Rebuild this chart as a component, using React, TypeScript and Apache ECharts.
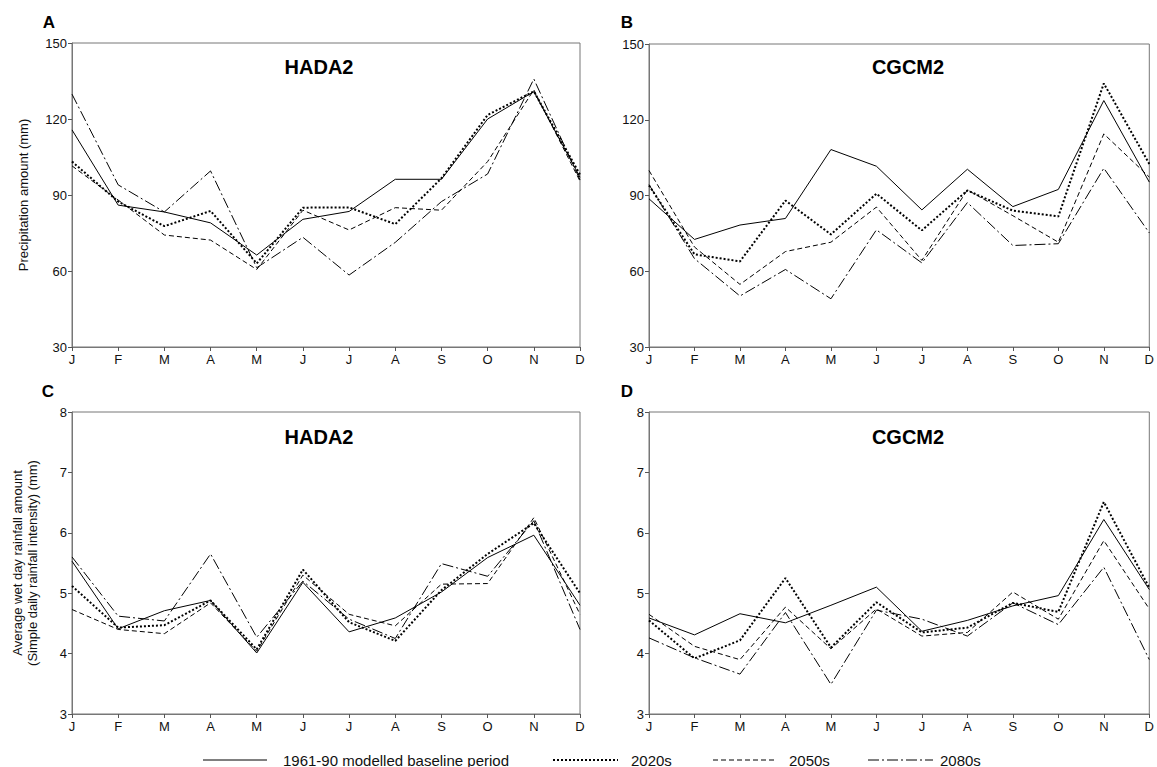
import React, { useEffect, useRef } from "react";
import * as echarts from "echarts";

const months = ["J", "F", "M", "A", "M", "J", "J", "A", "S", "O", "N", "D"];
const seriesNames = ["1961-90 modelled baseline period", "2020s", "2050s", "2080s"];

// Panel A: HADA2 precipitation amount (mm)
const aBaseline = [115.7, 86, 83.3, 79, 66.3, 80.4, 83.5, 96.2, 96.2, 120, 130.8, 97];
const a2020s = [103.2, 87.4, 77.7, 83.7, 63, 85, 85.1, 78.5, 96.6, 121.6, 130.9, 98];
const a2050s = [101.5, 88, 74.2, 72.2, 60.6, 84, 76.2, 85, 84, 103.2, 131.5, 95.5];
const a2080s = [129.8, 94, 83.3, 99.5, 61.3, 73.3, 58.4, 71.3, 87.4, 98.3, 135.8, 96];

// Panel B: CGCM2 precipitation amount (mm)
const bBaseline = [88.7, 72.6, 78.3, 80.9, 108.2, 101.6, 84.3, 100.4, 85.6, 92.4, 127.6, 95.3];
const b2020s = [94, 66.7, 63.9, 88, 74.6, 90.7, 76.2, 92, 84, 81.7, 134.4, 102.5];
const b2050s = [99.9, 69.6, 54.8, 67.8, 71.5, 85.4, 64.3, 92.2, 82, 71.5, 114.4, 97.3];
const b2080s = [94.3, 65, 50.2, 60.7, 49.1, 76.4, 63.3, 87.2, 70.2, 70.9, 100.8, 75.2];

// Panel C: HADA2 simple daily rainfall intensity (mm)
const cBaseline = [5.53, 4.41, 4.71, 4.88, 4.01, 5.18, 4.36, 4.59, 5.02, 5.59, 5.96, 4.8];
const c2020s = [5.12, 4.43, 4.47, 4.88, 4.07, 5.39, 4.52, 4.21, 5.05, 5.65, 6.16, 5.0];
const c2050s = [4.73, 4.4, 4.33, 4.84, 4.04, 5.3, 4.65, 4.46, 5.15, 5.16, 6.25, 4.65];
const c2080s = [5.6, 4.62, 4.54, 5.65, 4.27, 5.2, 4.57, 4.25, 5.49, 5.28, 6.2, 4.4];

// Panel D: CGCM2 simple daily rainfall intensity (mm)
const dBaseline = [4.59, 4.31, 4.66, 4.51, 4.8, 5.1, 4.37, 4.55, 4.79, 4.96, 6.22, 5.06];
const d2020s = [4.55, 3.92, 4.22, 5.25, 4.1, 4.85, 4.35, 4.43, 4.84, 4.69, 6.51, 5.09];
const d2050s = [4.65, 4.12, 3.9, 4.77, 4.08, 4.74, 4.29, 4.35, 5.02, 4.57, 5.87, 4.74];
const d2080s = [4.26, 3.93, 3.66, 4.68, 3.49, 4.72, 4.57, 4.29, 4.84, 4.48, 5.43, 3.9];

const precipTicks = { min: 30, max: 150, interval: 30 };
const intensityTicks = { min: 3, max: 8, interval: 1 };

const FONT = "'Liberation Sans', Arial, sans-serif";

const lineStyles = [
  { color: "#000", width: 1, type: "solid" },
  { color: "#000", width: 2, type: [2, 2] },
  { color: "#000", width: 1, type: [5, 3] },
  { color: "#000", width: 1, type: [11, 3, 2, 3] },
];

export default function App() {
  const ref = useRef<HTMLDivElement>(null);
  useEffect(() => {
    if (!ref.current) return;
    const chart = echarts.init(ref.current, undefined, { renderer: "svg" });

    const grids = [
      { left: 72, top: 43, width: 508, height: 304 },
      { left: 649, top: 44, width: 507, height: 303 },
      { left: 72, top: 412, width: 508, height: 302 },
      { left: 649, top: 412, width: 507, height: 302 },
    ].map((g) => ({ ...g, show: true, borderColor: "#777", borderWidth: 1, backgroundColor: "transparent" }));

    const xAxes = grids.map((_, i) => ({
      type: "category",
      gridIndex: i,
      data: months,
      boundaryGap: false,
      axisLine: { lineStyle: { color: "#777", width: 1 } },
      axisTick: { show: true, alignWithLabel: true, length: 4, lineStyle: { color: "#555" } },
      axisLabel: { color: "#111", fontSize: 13, fontFamily: FONT, margin: 6, interval: 0 },
      splitLine: { show: false },
    }));

    const yAxes = grids.map((_, i) => {
      const t = i < 2 ? precipTicks : intensityTicks;
      let name = "";
      let nameGap = 0;
      if (i === 0) {
        name = "Precipitation amount (mm)";
        nameGap = 41;
      } else if (i === 2) {
        name = "Average wet day rainfall amount\n(Simple daily rainfall intensity) (mm)";
        nameGap = 32;
      }
      return {
        type: "value",
        gridIndex: i,
        min: t.min,
        max: t.max,
        interval: t.interval,
        name,
        nameLocation: "middle",
        nameGap,
        nameTextStyle: { color: "#111", fontSize: 13, fontFamily: FONT, lineHeight: 15 },
        axisLine: { show: true, lineStyle: { color: "#777", width: 1 } },
        axisTick: { show: true, length: 4, lineStyle: { color: "#555" } },
        axisLabel: { color: "#111", fontSize: 13, fontFamily: FONT, margin: 5 },
        splitLine: { show: false },
      };
    });

    const panels = [
      [aBaseline, a2020s, a2050s, a2080s],
      [bBaseline, b2020s, b2050s, b2080s],
      [cBaseline, c2020s, c2050s, c2080s],
      [dBaseline, d2020s, d2050s, d2080s],
    ];

    const series: any[] = [];
    panels.forEach((p, gi) => {
      p.forEach((vals, si) => {
        series.push({
          type: "line",
          name: seriesNames[si],
          xAxisIndex: gi,
          yAxisIndex: gi,
          data: vals,
          symbol: "none",
          showSymbol: false,
          lineStyle: lineStyles[si],
          itemStyle: { color: "#000" },
          z: 4 - si,
        });
      });
    });

    // Legend drawn as graphic keys (line sample + label)
    const legendLines = [
      [203, 267],
      [553, 618],
      [713, 775],
      [868, 933],
    ];
    const legendTextX = [283, 631, 789, 940];
    const legendY = 760;
    const legendGraphics: any[] = [];
    seriesNames.forEach((n, i) => {
      const ls = lineStyles[i];
      legendGraphics.push({
        type: "line",
        shape: { x1: legendLines[i][0], y1: legendY, x2: legendLines[i][1], y2: legendY },
        style: {
          stroke: "#000",
          lineWidth: ls.width,
          lineDash: Array.isArray(ls.type) ? ls.type : null,
        },
      });
      legendGraphics.push({
        type: "text",
        x: legendTextX[i],
        y: legendY,
        style: {
          text: n,
          fill: "#111",
          font: `15px ${FONT}`,
          textAlign: "left",
          textVerticalAlign: "middle",
        },
      });
    });

    const panelText = (text: string, x: number, y: number, size: number) => ({
      type: "text",
      x,
      y,
      style: {
        text,
        fill: "#000",
        font: `bold ${size}px ${FONT}`,
        textAlign: "center",
        textVerticalAlign: "middle",
      },
      z: 10,
    });

    chart.setOption({
      animation: false,
      backgroundColor: "#fff",
      grid: grids,
      xAxis: xAxes,
      yAxis: yAxes,
      series,
      graphic: [
        panelText("A", 49, 22, 17),
        panelText("B", 627, 22, 17),
        panelText("C", 48, 391, 17),
        panelText("D", 627, 391, 17),
        panelText("HADA2", 319, 67, 20),
        panelText("CGCM2", 908, 67, 20),
        panelText("HADA2", 319, 437, 20),
        panelText("CGCM2", 908, 437, 20),
        ...legendGraphics,
      ],
    });
    return () => chart.dispose();
  }, []);
  return (
    <div
      ref={ref}
      style={{ position: "absolute", left: 0, top: 0, width: 1157, height: 767, background: "#fff" }}
    />
  );
}
